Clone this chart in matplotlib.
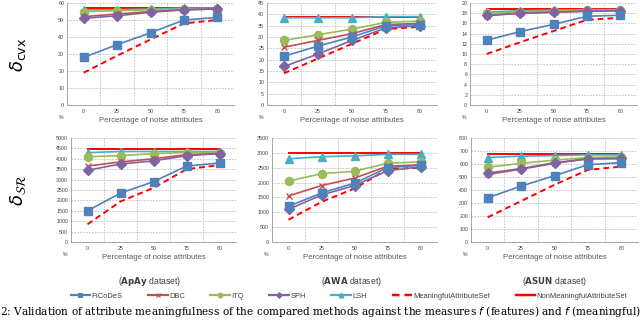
import matplotlib
matplotlib.use("Agg")
import matplotlib.pyplot as plt
from matplotlib.lines import Line2D

plt.rcParams['font.family'] = ['Liberation Sans', 'DejaVu Sans']
plt.rcParams['mathtext.fontset'] = 'dejavusans'

x_labels = ["0", "25", "50", "75", "80"]
series_names = ["PiCoDeS", "DBC", "ITQ", "SPH", "LSH", "MeaningfulAttributeSet", "NonMeaningfulAttributeSet"]

# Top row: delta_cvx
apay_cvx = {
    "PiCoDeS": [28, 35.5, 42.5, 50, 51.5],
    "DBC": [52, 53.5, 55, 56, 56.5],
    "ITQ": [55, 55.5, 56, 56.5, 56.5],
    "SPH": [51, 52.5, 54.5, 56, 56.5],
    "LSH": [56, 56, 56.5, 57, 57],
    "MeaningfulAttributeSet": [19, 29, 38.5, 48, 50],
    "NonMeaningfulAttributeSet": [57, 57, 57, 57, 57],
}
awa_cvx = {
    "PiCoDeS": [21.5, 26, 30, 35, 35.5],
    "DBC": [25.5, 28.5, 31.5, 35.5, 36],
    "ITQ": [28.5, 31, 33.5, 36.5, 37],
    "SPH": [17, 22.5, 28.5, 34, 35],
    "LSH": [38.5, 38.5, 38.5, 39, 39],
    "MeaningfulAttributeSet": [14, 20.5, 27, 33.5, 34.5],
    "NonMeaningfulAttributeSet": [39, 39, 39, 39, 39],
}
asun_cvx = {
    "PiCoDeS": [12.7, 14.4, 15.8, 17.4, 17.6],
    "DBC": [17.5, 18.0, 18.2, 18.4, 18.5],
    "ITQ": [18.0, 18.3, 18.5, 18.6, 18.6],
    "SPH": [17.6, 18.0, 18.2, 18.4, 18.5],
    "LSH": [18.2, 18.5, 18.6, 18.7, 18.7],
    "MeaningfulAttributeSet": [10, 12.3, 14.5, 16.7, 17.1],
    "NonMeaningfulAttributeSet": [18.8, 18.8, 18.8, 18.8, 18.8],
}
# Bottom row
apay_sr = {
    "PiCoDeS": [1500, 2350, 2900, 3650, 3800],
    "DBC": [3650, 3850, 4000, 4200, 4250],
    "ITQ": [4100, 4150, 4250, 4300, 4300],
    "SPH": [3450, 3750, 3900, 4150, 4250],
    "LSH": [4300, 4350, 4350, 4350, 4350],
    "MeaningfulAttributeSet": [850, 1950, 2600, 3500, 3700],
    "NonMeaningfulAttributeSet": [4450, 4450, 4450, 4450, 4450],
}
awa_sr = {
    "PiCoDeS": [1200, 1650, 1980, 2500, 2580],
    "DBC": [1550, 1900, 2150, 2550, 2600],
    "ITQ": [2050, 2300, 2380, 2650, 2700],
    "SPH": [1100, 1580, 1900, 2400, 2530],
    "LSH": [2800, 2870, 2900, 2950, 2950],
    "MeaningfulAttributeSet": [750, 1350, 1800, 2450, 2500],
    "NonMeaningfulAttributeSet": [3000, 3000, 3000, 3000, 3000],
}
asun_sr = {
    "PiCoDeS": [340, 430, 510, 595, 610],
    "DBC": [520, 560, 605, 640, 640],
    "ITQ": [575, 605, 630, 650, 655],
    "SPH": [530, 565, 610, 640, 645],
    "LSH": [650, 660, 665, 670, 670],
    "MeaningfulAttributeSet": [190, 315, 440, 555, 580],
    "NonMeaningfulAttributeSet": [680, 680, 680, 680, 680],
}

styles = {
    "PiCoDeS": dict(color="#4F81BD", marker="s", ls="-", ms=5.8, lw=1.2),
    "DBC": dict(color="#C0504D", marker="x", ls="-", ms=5, lw=1.2, mew=1.0),
    "ITQ": dict(color="#9BBB59", marker="o", ls="-", ms=5.8, lw=1.2),
    "SPH": dict(color="#8064A2", marker="D", ls="-", ms=4.8, lw=1.2),
    "LSH": dict(color="#4BACC6", marker="^", ls="-", ms=5.8, lw=1.2),
    "MeaningfulAttributeSet": dict(color="#FF0000", marker=None, ls=(0, (3, 2)), lw=1.4),
    "NonMeaningfulAttributeSet": dict(color="#FF0000", marker=None, ls="-", lw=1.4),
}
draw_order = ["NonMeaningfulAttributeSet", "MeaningfulAttributeSet", "LSH", "ITQ", "DBC", "SPH", "PiCoDeS"]

W, H = 640, 320
fig = plt.figure(figsize=(6.4, 3.2), dpi=100)

def rect(l, r, t, b):
    return [l / W, 1 - b / H, (r - l) / W, (b - t) / H]

panels = [
    (apay_cvx, rect(67, 234, 3, 105), 60, 10),
    (awa_cvx, rect(267, 437, 3, 105), 45, 5),
    (asun_cvx, rect(470, 637, 3, 105), 20, 2),
    (apay_sr, rect(71, 236, 138, 242), 5000, 500),
    (awa_sr, rect(272, 437, 138, 242), 3500, 500),
    (asun_sr, rect(471, 638, 138, 242), 800, 100),
]

grid_kw = dict(color="#BFBFBF", lw=0.6, ls=(0, (2, 1.5)))
xs = list(range(len(x_labels)))
axes = []
for data, pos, ymax, step in panels:
    ax = fig.add_axes(pos)
    axes.append(ax)
    for name in draw_order:
        st = dict(styles[name])
        ax.plot(xs, data[name], color=st.pop("color"), marker=st.pop("marker"),
                ls=st.pop("ls"), lw=st.pop("lw"), ms=st.pop("ms", 0), **st, zorder=3)
    ax.set_xlim(-0.5, len(x_labels) - 0.5)
    ax.set_ylim(0, ymax)
    yt = list(range(0, int(ymax) + 1, step))
    ax.set_yticks(yt)
    ax.set_yticklabels([str(v) for v in yt])
    for v in yt[1:]:
        ax.axhline(v, zorder=1, **grid_kw)
    for v in [i + 0.5 for i in range(len(x_labels))]:
        ax.axvline(v, zorder=1, **grid_kw)
    ax.set_xticks(xs)
    ax.set_xticklabels(x_labels)
    ax.tick_params(axis="both", labelsize=3.8, length=0, pad=2, colors="#404040")
    ax.tick_params(axis="x", pad=3)
    for s in ["top", "right"]:
        ax.spines[s].set_visible(False)
    for s in ["left", "bottom"]:
        ax.spines[s].set_color("#A6A6A6")
        ax.spines[s].set_linewidth(0.7)
    ax.set_xlabel("Percentage of noise attributes", fontsize=5.6, color="#595959", labelpad=2)
    ax.text(-0.02, -0.10, "%", transform=ax.transAxes, fontsize=3.8, color="#404040",
            ha="right", va="top")

fig.text(18 / W, 1 - 55 / H, r"$\delta_{\mathrm{cvx}}$", rotation=90, fontsize=13,
         ha="center", va="center", color="black")
fig.text(18 / W, 1 - 190 / H, r"$\delta_{\mathcal{SR}}$", rotation=90, fontsize=13,
         ha="center", va="center", color="black")

for cx, bold, rest in [(150, "ApAy", " dataset)"), (351, "AWA", " dataset)"), (555, "ASUN", " dataset)")]:
    fig.text(cx / W, 1 - 282 / H, "(" + r"$\bf{" + bold + "}$" + rest, fontsize=6.2,
             ha="center", va="center", color="#404040")

handles = []
for name in series_names:
    st = dict(styles[name])
    handles.append(Line2D([], [], color=st["color"], marker=st["marker"], ls=st["ls"],
                          lw=st["lw"] + 0.4, ms=st.get("ms", 0) * 0.6, mew=0.8))
fig.legend(handles, series_names, loc="center", bbox_to_anchor=(349 / W, 1 - 296 / H),
           ncol=7, frameon=False, fontsize=5.4, handlelength=2.6, handletextpad=0.2,
           columnspacing=3.4, labelcolor="#404040")

fig.text(0.0, 1 - 319 / H,
         "2: Validation of attribute meaningfulness of the compared methods against the measures "
         "$f$ (features) and $f$ (meaningful)",
         fontsize=7.6, family="DejaVu Serif", ha="left", va="bottom", color="black")

fig.savefig("out.png", dpi=100)
